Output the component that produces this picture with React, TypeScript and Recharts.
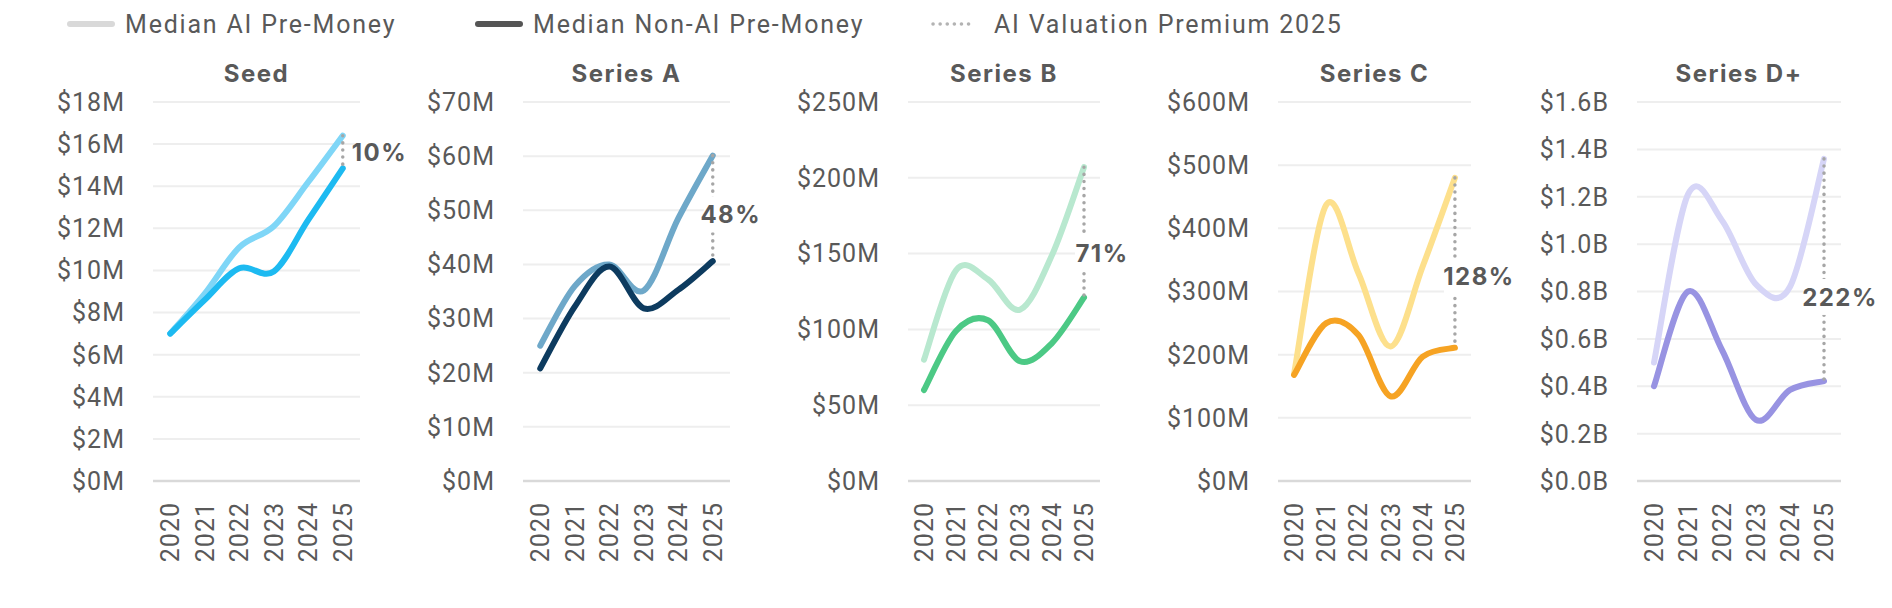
import React from 'react'
import { LineChart, Line, XAxis, YAxis, CartesianGrid, ReferenceLine, ReferenceDot } from 'recharts'

const YEARS = ['2020', '2021', '2022', '2023', '2024', '2025']

const SEED_AI = [7.0, 8.9, 11.1, 12.1, 14.2, 16.4]
const SEED_NON_AI = [7.0, 8.6, 10.1, 9.95, 12.4, 14.85]
const A_AI = [25, 36, 40, 35.2, 48.5, 60.1]
const A_NON_AI = [20.8, 32.2, 39.6, 31.9, 35.3, 40.6]
const B_AI = [80, 139, 133, 113, 149, 207]
const B_NON_AI = [60, 99, 106, 79, 91, 121]
const C_AI = [170, 437, 329, 213, 340, 480]
const C_NON_AI = [168, 250, 231, 134, 197, 211]
const D_AI = [0.5, 1.21, 1.1, 0.83, 0.82, 1.36]
const D_NON_AI = [0.4, 0.8, 0.553, 0.258, 0.385, 0.422]

const STAGES = ['Seed', 'Series A', 'Series B', 'Series C', 'Series D+']
const PREMIUM_LABELS = ['10%', '48%', '71%', '128%', '222%']

const SEED_TICKS = [0, 2, 4, 6, 8, 10, 12, 14, 16, 18]
const A_TICKS = [0, 10, 20, 30, 40, 50, 60, 70]
const B_TICKS = [0, 50, 100, 150, 200, 250]
const C_TICKS = [0, 100, 200, 300, 400, 500, 600]
const D_TICKS = [0, 0.2, 0.4, 0.6, 0.8, 1.0, 1.2, 1.4, 1.6]

const LEGEND_LABELS = ['Median AI Pre-Money', 'Median Non-AI Pre-Money', 'AI Valuation Premium 2025']

const TEXT = '#595959'
const FONT = 'Roboto, "Liberation Sans", sans-serif'
const BOLD_FONT = 'Inter, Roboto, sans-serif'
const PLOT_TOP = 102
const PLOT_BOTTOM = 481
const Y_WIDTH = 140
const X_HEIGHT = 80

// Excel-style smoothing (uniform Catmull-Rom)
function excelSmooth(context: any) {
  let pts: number[][] = []
  return {
    areaStart() {},
    areaEnd() {},
    lineStart() {
      pts = []
    },
    point(x: number, y: number) {
      pts.push([x, y])
    },
    lineEnd() {
      if (!pts.length) return
      context.moveTo(pts[0][0], pts[0][1])
      for (let i = 0; i < pts.length - 1; i++) {
        const p0 = pts[i - 1] || pts[i]
        const p1 = pts[i]
        const p2 = pts[i + 1]
        const p3 = pts[i + 2] || p2
        context.bezierCurveTo(
          p1[0] + (p2[0] - p0[0]) / 6,
          p1[1] + (p2[1] - p0[1]) / 6,
          p2[0] - (p3[0] - p1[0]) / 6,
          p2[1] - (p3[1] - p1[1]) / 6,
          p2[0],
          p2[1],
        )
      }
    },
  }
}

const PANELS = [
  { ai: SEED_AI, nonAi: SEED_NON_AI, ticks: SEED_TICKS, unit: 'M', aiColor: '#7fd6f7', nonAiColor: '#1dbaf1', left: 153, right: 360, dx: 9, dy: 0, anchor: 'start' },
  { ai: A_AI, nonAi: A_NON_AI, ticks: A_TICKS, unit: 'M', aiColor: '#6ea8c9', nonAiColor: '#0d3b5f', left: 523, right: 730, dx: 18, dy: 6, anchor: 'middle' },
  { ai: B_AI, nonAi: B_NON_AI, ticks: B_TICKS, unit: 'M', aiColor: '#b8e8cf', nonAiColor: '#4cc985', left: 908, right: 1100, dx: 18, dy: 21, anchor: 'middle' },
  { ai: C_AI, nonAi: C_NON_AI, ticks: C_TICKS, unit: 'M', aiColor: '#fde08c', nonAiColor: '#f6a323', left: 1278, right: 1471, dx: 24, dy: 14, anchor: 'middle' },
  { ai: D_AI, nonAi: D_NON_AI, ticks: D_TICKS, unit: 'B', aiColor: '#d6d5f7', nonAiColor: '#9893e2', left: 1637, right: 1841, dx: 16, dy: 27, anchor: 'middle' },
]

function fmt(v: number, unit: string) {
  return unit === 'B' ? `$${v.toFixed(1)}B` : `$${v}M`
}

function YearTick({ x, y, payload }: any) {
  return (
    <g transform={`translate(${x},${y + 21})`}>
      <text transform="rotate(-90)" textAnchor="end" dy="0.36em" fill={TEXT} fontSize={25} fontFamily={FONT} letterSpacing={1}>
        {payload.value}
      </text>
    </g>
  )
}

function PremiumLabel({ cx, cy, text, dx, dy, anchor }: any) {
  const w = text.length * 16 + 6
  if (anchor === 'start') {
    return (
      <text x={cx + dx} y={cy + dy} dy="0.36em" fill={TEXT} fontSize={24} fontWeight={700} fontFamily={BOLD_FONT} letterSpacing={1.5}>
        {text}
      </text>
    )
  }
  return (
    <g>
      <rect x={cx + dx - w / 2} y={cy + dy - 18} width={w} height={36} fill="#fff" />
      <text x={cx + dx} y={cy + dy} dy="0.36em" textAnchor="middle" fill={TEXT} fontSize={24} fontWeight={700} fontFamily={BOLD_FONT} letterSpacing={1.5}>
        {text}
      </text>
    </g>
  )
}

function Panel({ index }: { index: number }) {
  const p = PANELS[index]
  const data = YEARS.map((year, i) => ({ year, ai: p.ai[i], nonAi: p.nonAi[i] }))
  const plotW = p.right - p.left
  const pad = plotW / 12
  const last = YEARS[YEARS.length - 1]
  const aiEnd = p.ai[p.ai.length - 1]
  const nonEnd = p.nonAi[p.nonAi.length - 1]
  const width = Y_WIDTH + plotW + 90
  return (
    <div style={{ position: 'absolute', left: p.left - Y_WIDTH, top: 0 }}>
      <div
        style={{
          position: 'absolute',
          left: Y_WIDTH,
          width: plotW,
          top: 58,
          textAlign: 'center',
          fontFamily: BOLD_FONT,
          fontWeight: 700,
          fontSize: 24,
          lineHeight: '32px',
          letterSpacing: 1.5,
          color: TEXT,
        }}
      >
        {STAGES[index]}
      </div>
      <LineChart
        width={width}
        height={608}
        data={data}
        margin={{ top: PLOT_TOP, bottom: 608 - PLOT_BOTTOM - X_HEIGHT, left: 0, right: width - Y_WIDTH - plotW }}
      >
        <CartesianGrid vertical={false} stroke="#eeeeee" strokeWidth={2} />
        <XAxis
          dataKey="year"
          height={X_HEIGHT}
          axisLine={false}
          tickLine={false}
          tickSize={0}
          tickMargin={0}
          interval={0}
          padding={{ left: pad, right: pad }}
          tick={<YearTick />}
        />
        <YAxis
          width={Y_WIDTH}
          domain={[0, p.ticks[p.ticks.length - 1]]}
          ticks={p.ticks}
          interval={0}
          axisLine={false}
          tickLine={false}
          tickSize={0}
          tickMargin={28}
          tickFormatter={(v: number) => fmt(v, p.unit)}
          tick={{ fill: TEXT, fontSize: 25, fontFamily: FONT, letterSpacing: 1 }}
        />
        <ReferenceLine y={0} stroke="#d9d9d9" strokeWidth={2.5} />
        <Line
          dataKey="ai"
          type={excelSmooth as any}
          stroke={p.aiColor}
          strokeWidth={6}
          strokeLinecap="round"
          dot={false}
          activeDot={false}
          isAnimationActive={false}
        />
        <Line
          dataKey="nonAi"
          type={excelSmooth as any}
          stroke={p.nonAiColor}
          strokeWidth={6}
          strokeLinecap="round"
          dot={false}
          activeDot={false}
          isAnimationActive={false}
        />
        <ReferenceLine
          segment={[
            { x: last, y: aiEnd },
            { x: last, y: nonEnd },
          ]}
          stroke="#a6a6a6"
          strokeWidth={3.5}
          strokeDasharray="0.1 7"
          strokeLinecap="round"
        />
        <ReferenceDot
          x={last}
          y={(aiEnd + nonEnd) / 2}
          r={0}
          shape={(props: any) => (
            <PremiumLabel cx={props.cx} cy={props.cy} text={PREMIUM_LABELS[index]} dx={p.dx} dy={p.dy} anchor={p.anchor} />
          )}
        />
      </LineChart>
    </div>
  )
}

function LegendItem({ x, label, kind }: { x: number; label: string; kind: string }) {
  const sw = kind === 'dot' ? 44 : 50
  return (
    <div style={{ position: 'absolute', left: x, top: 8, height: 32, display: 'flex', alignItems: 'center' }}>
      <svg width={sw} height={12} style={{ marginRight: kind === 'dot' ? 20 : 9 }}>
        {kind === 'dot' ? (
          <line x1={3} y1={6} x2={sw - 3} y2={6} stroke="#b3b3b3" strokeWidth={3.5} strokeDasharray="0.1 7" strokeLinecap="round" />
        ) : (
          <line x1={4} y1={6} x2={sw - 4} y2={6} stroke={kind === 'light' ? '#d9d9d9' : '#555555'} strokeWidth={6} strokeLinecap="round" />
        )}
      </svg>
      <span style={{ fontFamily: FONT, fontSize: 25, color: TEXT, letterSpacing: 1.8, whiteSpace: 'nowrap' }}>{label}</span>
    </div>
  )
}

export default function App() {
  return (
    <div style={{ position: 'absolute', left: 0, top: 0, width: 1892, height: 608, background: '#fff', overflow: 'hidden' }}>
      <LegendItem x={66} label={LEGEND_LABELS[0]} kind="light" />
      <LegendItem x={474} label={LEGEND_LABELS[1]} kind="dark" />
      <LegendItem x={930} label={LEGEND_LABELS[2]} kind="dot" />
      {PANELS.map((_, i) => (
        <Panel key={i} index={i} />
      ))}
    </div>
  )
}
